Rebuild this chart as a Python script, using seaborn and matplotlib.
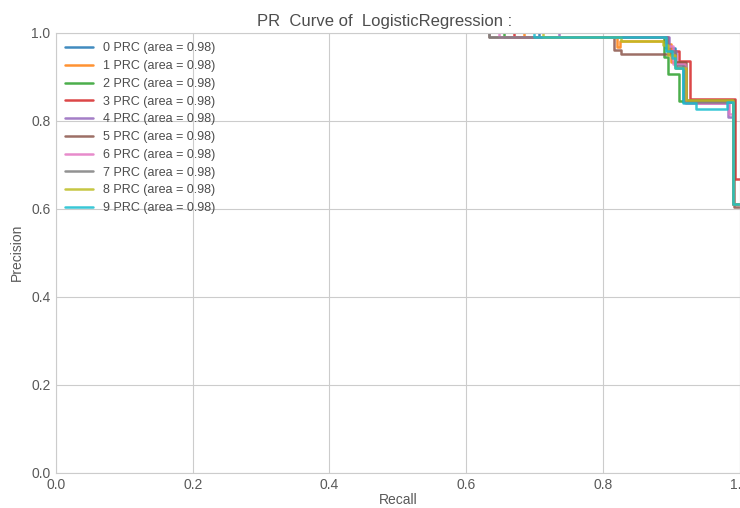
import matplotlib
matplotlib.use("Agg")
import matplotlib.pyplot as plt
import seaborn as sns
import pandas as pd

# Per-class precision/recall curves (recall decreasing, as returned by the PR routine)
classes = [0, 1, 2, 3, 4, 5, 6, 7, 8, 9]
areas = [0.98, 0.98, 0.98, 0.98, 0.98, 0.98, 0.98, 0.98, 0.98, 0.98]

recall_0 = [1.0, 0.991, 0.991, 0.918, 0.918, 0.905, 0.905, 0.893, 0.893, 0.706, 0.706]
precision_0 = [0.610, 0.610, 0.843, 0.843, 0.930, 0.930, 0.965, 0.965, 0.991, 0.991, 1.0]

recall_1 = [1.0, 0.991, 0.991, 0.920, 0.920, 0.900, 0.900, 0.892, 0.892, 0.825, 0.825, 0.821, 0.821, 0.684, 0.684]
precision_1 = [0.612, 0.612, 0.845, 0.845, 0.935, 0.935, 0.975, 0.975, 0.982, 0.982, 0.968, 0.968, 0.991, 0.991, 1.0]

recall_2 = [1.0, 0.991, 0.991, 0.912, 0.912, 0.896, 0.896, 0.890, 0.890, 0.655, 0.655]
precision_2 = [0.612, 0.612, 0.846, 0.846, 0.907, 0.907, 0.945, 0.945, 0.991, 0.991, 1.0]

recall_3 = [1.0, 0.994, 0.994, 0.927, 0.927, 0.911, 0.911, 0.895, 0.895, 0.670, 0.670]
precision_3 = [0.667, 0.667, 0.850, 0.850, 0.937, 0.937, 0.960, 0.960, 0.991, 0.991, 1.0]

recall_4 = [1.0, 0.991, 0.991, 0.983, 0.983, 0.921, 0.921, 0.907, 0.907, 0.897, 0.897, 0.736, 0.736]
precision_4 = [0.610, 0.610, 0.808, 0.808, 0.840, 0.840, 0.920, 0.920, 0.960, 0.960, 0.991, 0.991, 1.0]

recall_5 = [1.0, 0.992, 0.992, 0.922, 0.922, 0.905, 0.905, 0.889, 0.826, 0.826, 0.817, 0.817, 0.633, 0.633]
precision_5 = [0.605, 0.605, 0.848, 0.848, 0.935, 0.935, 0.952, 0.952, 0.952, 0.962, 0.962, 0.991, 0.991, 1.0]

recall_6 = [1.0, 0.991, 0.991, 0.985, 0.985, 0.920, 0.920, 0.903, 0.903, 0.893, 0.893, 0.648, 0.648]
precision_6 = [0.612, 0.612, 0.815, 0.815, 0.840, 0.840, 0.930, 0.930, 0.970, 0.970, 0.991, 0.991, 1.0]

recall_7 = [1.0, 0.991, 0.991, 0.919, 0.919, 0.906, 0.906, 0.894, 0.894, 0.633, 0.633]
precision_7 = [0.610, 0.610, 0.842, 0.842, 0.925, 0.925, 0.960, 0.960, 0.991, 0.991, 1.0]

recall_8 = [1.0, 0.991, 0.991, 0.921, 0.921, 0.906, 0.906, 0.895, 0.895, 0.888, 0.888, 0.826, 0.826, 0.713, 0.713]
precision_8 = [0.612, 0.612, 0.848, 0.848, 0.920, 0.920, 0.950, 0.950, 0.972, 0.972, 0.982, 0.982, 0.991, 0.991, 1.0]

recall_9 = [1.0, 0.991, 0.991, 0.981, 0.981, 0.937, 0.937, 0.918, 0.918, 0.906, 0.906, 0.901, 0.901, 0.893, 0.893, 0.700, 0.700]
precision_9 = [0.610, 0.610, 0.843, 0.843, 0.826, 0.826, 0.840, 0.840, 0.920, 0.920, 0.943, 0.943, 0.960, 0.960, 0.991, 0.991, 1.0]

recalls = [recall_0, recall_1, recall_2, recall_3, recall_4,
           recall_5, recall_6, recall_7, recall_8, recall_9]
precisions = [precision_0, precision_1, precision_2, precision_3, precision_4,
              precision_5, precision_6, precision_7, precision_8, precision_9]

frames = []
for c, a, r, p in zip(classes, areas, recalls, precisions):
    frames.append(pd.DataFrame({
        "Recall": r,
        "Precision": p,
        "curve": f"{c} PRC (area = {a:.2f})",
    }))
df = pd.concat(frames, ignore_index=True)
labels = [f"{c} PRC (area = {a:.2f})" for c, a in zip(classes, areas)]

sns.set_style("whitegrid")
plt.rcParams["font.family"] = ["Liberation Sans", "DejaVu Sans"]

fig = plt.figure(figsize=(7.4, 5.08), dpi=100)
ax = fig.add_axes([56 / 740, 35.5 / 508, 683.5 / 740, 439.5 / 508])

sns.lineplot(data=df, x="Recall", y="Precision", hue="curve", hue_order=labels,
             palette="tab10", sort=False, estimator=None, linewidth=1.8,
             alpha=0.85, ax=ax)

ax.set_xlim(0.0, 1.0)
ax.set_ylim(0.0, 1.0)
ax.set_xticks([0.0, 0.2, 0.4, 0.6, 0.8, 1.0])
ax.set_yticks([0.0, 0.2, 0.4, 0.6, 0.8, 1.0])
ax.tick_params(labelsize=10, colors=".35", pad=0.5)
ax.set_xlabel("Recall", fontsize=10, color=".35", labelpad=1)
ax.set_ylabel("Precision", fontsize=10, color=".35", labelpad=5)
ax.set_title("PR  Curve of  LogisticRegression :", fontsize=12, color=".3",
             pad=5, x=0.481)

sns.move_legend(ax, "upper left", title=None, frameon=False, fontsize=9,
                labelspacing=0.46, handlelength=2.2, borderaxespad=0.35,
                bbox_to_anchor=(0.0, 1.0), labelcolor=".3")

fig.savefig("out.png", dpi=100)
